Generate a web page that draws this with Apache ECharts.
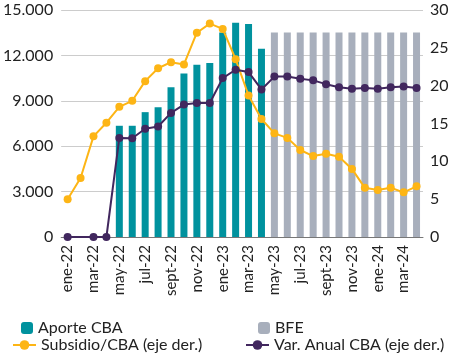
<!DOCTYPE html>
<html><head><meta charset="utf-8">
<script src="https://cdn.jsdelivr.net/npm/echarts@6/dist/echarts.min.js"></script>
<style>html,body{margin:0;padding:0;background:#fff}#c{width:453px;height:354px}</style>
</head><body><div id="c"></div>
<script>
var months = ['ene-22','feb-22','mar-22','abr-22','may-22','jun-22','jul-22','ago-22','sept-22','oct-22','nov-22','dic-22',
  'ene-23','feb-23','mar-23','abr-23','may-23','jun-23','jul-23','ago-23','sept-23','oct-23','nov-23','dic-23',
  'ene-24','feb-24','mar-24','abr-24'];
var aporteCBA = [null,null,null,null,7350,7350,8250,8580,9900,10810,11380,11490,13520,14160,14070,12440,
  null,null,null,null,null,null,null,null,null,null,null,null];
var bfe = [null,null,null,null,null,null,null,null,null,null,null,null,null,null,null,null,
  13520,13520,13520,13520,13520,13520,13520,13520,13520,13520,13520,13520];
var subsidioCBA = [5.0,7.8,13.3,15.1,17.2,18.0,20.6,22.3,23.1,22.8,27.0,28.2,27.5,23.5,18.7,15.6,
  13.7,13.1,11.5,10.7,11.0,10.6,9.0,6.5,6.2,6.5,5.9,6.7];
var varAnualCBA = [0,null,0,0,13.1,13.05,14.3,14.6,16.4,17.5,17.7,17.7,21.0,22.1,21.8,19.5,
  21.2,21.2,20.9,20.7,20.2,19.8,19.6,19.7,19.6,19.8,19.9,19.7];
var leftTicks = [0,3000,6000,9000,12000,15000];
var rightTicks = [0,5,10,15,20,25,30];

var C_TEAL='#00929E', C_GREY='#A8AFBC', C_YEL='#FDB515', C_PUR='#41275E';
var FONT='Lato';
function fmt(v){return String(v).replace(/\B(?=(\d{3})+(?!\d))/g,'.');}
var chart = echarts.init(document.getElementById('c'));
var legText = {fontFamily:FONT,fontSize:16,color:'#222'};
chart.setOption({
  animation:false,
  textStyle:{fontFamily:FONT},
  grid:{left:60,right:30,top:10,bottom:117,containLabel:false},
  legend:[
    {data:['Aporte CBA'],left:21,top:320,padding:0,itemWidth:12,itemHeight:12,textStyle:legText,selectedMode:false},
    {data:['BFE'],left:258,top:320,padding:0,itemWidth:12,itemHeight:12,textStyle:legText,selectedMode:false},
    {data:['Subsidio/CBA (eje der.)'],left:12,top:337,padding:0,itemWidth:23,itemHeight:12,textStyle:legText,selectedMode:false},
    {data:['Var. Anual CBA (eje der.)'],left:245,top:337,padding:0,itemWidth:23,itemHeight:12,textStyle:legText,selectedMode:false}
  ],
  xAxis:{type:'category',data:months,boundaryGap:true,
    axisLine:{lineStyle:{color:'#777',width:1}},
    axisTick:{interval:1,alignWithLabel:false,length:5,lineStyle:{color:'#777'}},
    axisLabel:{interval:1,rotate:90,fontFamily:FONT,fontSize:15,color:'#222',margin:8}},
  yAxis:[
    {type:'value',min:leftTicks[0],max:leftTicks[leftTicks.length-1],interval:3000,
      axisLine:{show:false},axisTick:{show:false},
      splitLine:{lineStyle:{color:'#CCCCCC',width:1}},
      axisLabel:{formatter:fmt,fontFamily:FONT,fontSize:16,color:'#222',margin:8}},
    {type:'value',min:rightTicks[0],max:rightTicks[rightTicks.length-1],interval:5,position:'right',
      axisLine:{show:false},axisTick:{show:false},splitLine:{show:false},
      axisLabel:{fontFamily:FONT,fontSize:16,color:'#222',margin:7}}
  ],
  series:[
    {name:'Aporte CBA',type:'bar',data:aporteCBA,barWidth:7,barGap:'-100%',itemStyle:{color:C_TEAL}},
    {name:'BFE',type:'bar',data:bfe,barWidth:7,barGap:'-100%',itemStyle:{color:C_GREY}},
    {name:'Subsidio/CBA (eje der.)',type:'line',yAxisIndex:1,data:subsidioCBA,symbol:'circle',symbolSize:8,
      lineStyle:{color:C_YEL,width:2},itemStyle:{color:C_YEL}},
    {name:'Var. Anual CBA (eje der.)',type:'line',yAxisIndex:1,data:varAnualCBA,connectNulls:true,symbol:'circle',symbolSize:8,
      lineStyle:{color:C_PUR,width:2},itemStyle:{color:C_PUR}}
  ]
});
</script></body></html>
